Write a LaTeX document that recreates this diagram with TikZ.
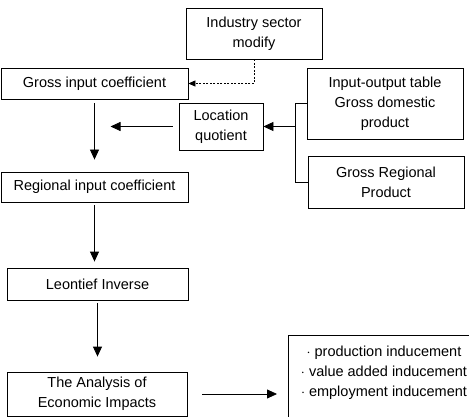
\documentclass[tikz,border=0pt]{standalone}
\usepackage{fontspec}
\setmainfont{Liberation Sans}
\usepackage{tikz}
\usetikzlibrary{arrows.meta}
\usepackage{xcolor}

\tikzset{
  box/.style={draw, line width=0.8pt, align=center, inner sep=0pt},
  flow/.style={line width=0.8pt, ->},
  modflow/.style={line width=0.7pt, ->, dash pattern=on 2pt off 1.5pt}
}

\begin{document}
\begin{tikzpicture}[x=1pt, y=-1pt, font=\fontsize{14.5}{20}\selectfont,
    >={Triangle[length=10pt,width=9pt]}]
  \useasboundingbox (0,0) rectangle (469,417);
  \clip (0,0) rectangle (469,417);

  \node[box, minimum width=136pt, minimum height=51pt] (industry) at (254,33.5) {Industry sector\\modify};
  \node[box, minimum width=187pt, minimum height=31pt] (gross) at (94.5,83.5) {Gross input coefficient};
  \node[box, minimum width=84pt, minimum height=47pt] (locq) at (221,126.5) {Location\\quotient};
  \node[box, minimum width=156pt, minimum height=71pt] (iotable) at (385,103.5) {Input-output table\\Gross domestic\\product};
  \node[box, minimum width=156pt, minimum height=52pt] (grp) at (386,182) {Gross Regional\\Product};
  \node[box, minimum width=187pt, minimum height=30pt] (regional) at (94.5,187) {Regional input coefficient};
  \node[box, minimum width=181pt, minimum height=32pt] (leontief) at (97.5,284) {Leontief Inverse};
  \node[box, minimum width=180pt, minimum height=44pt] (analysis) at (97,394) {The Analysis of\\Economic Impacts};
  \node[box, anchor=north west, minimum width=195pt, minimum height=100pt] (induce) at (288,335) {};
  \node[align=center] (inducetxt) at (384,373) {$\cdot$ production inducement\\$\cdot$ value added inducement\\$\cdot$ employment inducement};

  \coordinate (brk) at (295,0);

  \draw[modflow, >={Triangle[length=7pt,width=6pt]}] (industry.south) |- (gross.east);
  \draw[line width=0.8pt] (iotable.west) -| (brk |- grp.west) -- (grp.west);
  \draw[flow] (locq.east -| brk) -- (locq.east);
  \draw[flow, shorten <=6pt, shorten >=16pt] (locq.west) -- (locq.west -| gross.south);
  \draw[flow, shorten <=4pt, shorten >=12pt] (gross.south) -- (regional.north);
  \draw[flow, shorten <=3pt, shorten >=6pt] (regional.south) -- (regional.south |- leontief.north);
  \draw[flow, shorten <=3pt, shorten >=15pt] (leontief.south) -- (leontief.south |- analysis.north);
  \draw[flow, shorten <=15pt, shorten >=11pt] (analysis.east) -- (analysis.east -| induce.west);
\end{tikzpicture}
\end{document}
